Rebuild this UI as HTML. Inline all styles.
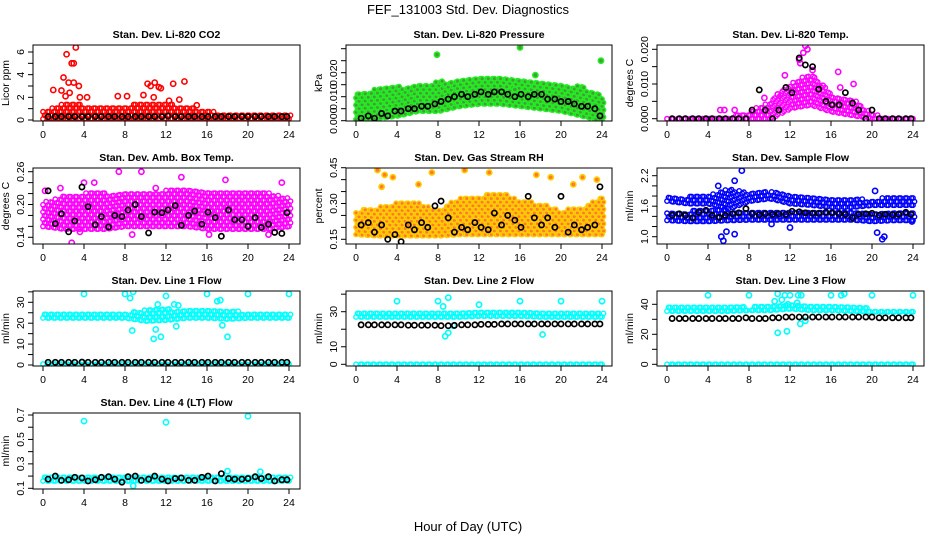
<!DOCTYPE html>
<html><head><meta charset="utf-8"><style>
body{margin:0;background:#fff}
svg{display:block;font-family:"Liberation Sans",sans-serif}
</style></head><body>
<svg id="fig" width="936" height="540" viewBox="0 0 936 540">
<rect width="936" height="540" fill="#fff"/>
<text x="468" y="14" text-anchor="middle" font-size="13">FEF_131003  Std. Dev. Diagnostics</text>
<text x="468" y="531" text-anchor="middle" font-size="13">Hour of Day (UTC)</text>
</svg>
<script>
const bandHours=[0,2,4,6,8,10,12,14,16,18,20,22,24];
const xTicks=[0,4,8,12,16,20,24];
const blackHours=[0.5,1.2,1.8,2.5,3.1,3.8,4.4,5.1,5.7,6.4,7.0,7.7,8.3,9.0,9.6,10.3,10.9,11.6,12.2,12.9,13.5,14.2,14.8,15.5,16.1,16.8,17.4,18.1,18.7,19.4,20.0,20.7,21.3,22.0,22.6,23.3,23.8];

const co2Lo=[0.1,0.1,0.1,0.1,0.1,0.1,0.1,0.1,0.1,0.1,0.1,0.1,0.1];
const co2Hi=[0.7,1.5,1.3,1.2,1.3,1.4,1.4,1.2,0.8,0.5,0.45,0.45,0.4];
const co2Out=[[1,2.65],[1.8,2.6],[2,3.75],[2.3,5.8],[2.5,3.3],[2.6,2.4],[2.8,5.0],[3,5.0],[3.0,3.3],[3.2,6.4],[3.5,3.0],[3.6,2.0],[2.2,2.1],[4.3,2.0],[7.3,2.1],[8.2,2.1],[9.8,2.2],[10.2,3.2],[10.5,3.0],[10.9,3.3],[10.8,2.0],[11.3,2.9],[11.5,2.8],[12.3,1.7],[12.7,3.2],[13.3,1.8],[13.8,3.4],[15,1.3]];
const co2Black=[0.3,0.3,0.3,0.3,0.3,0.3,0.3,0.3,0.3,0.3,0.3,0.3,0.3,0.3,0.3,0.3,0.3,0.3,0.35,0.3,0.3,0.3,0.3,0.3,0.3,0.3,0.3,0.3,0.3,0.3,0.3,0.3,0.3,0.3,0.3,0.3,0.3];

const presLo=[0.0005,0.001,0.002,0.004,0.004,0.006,0.007,0.007,0.006,0.005,0.004,0.002,0.0];
const presHi=[0.011,0.013,0.014,0.015,0.016,0.017,0.018,0.018,0.017,0.016,0.015,0.014,0.010];
const presOut=[[7.9,0.0275],[16,0.0305],[23.9,0.025],[15.5,0.013],[17.5,0.019]];
const presBlack=[0.001,0.002,0.001,0.003,0.002,0.004,0.004,0.005,0.005,0.006,0.006,0.007,0.008,0.009,0.010,0.011,0.010,0.011,0.012,0.011,0.012,0.012,0.011,0.010,0.011,0.010,0.011,0.011,0.009,0.009,0.008,0.008,0.007,0.006,0.006,0.005,0.002];

const tempLo=[0,0,0,0,0,0,0.003,0.004,0.002,0.001,0,0,0];
const tempHi=[0.0005,0.0005,0.0005,0.0005,0.002,0.005,0.010,0.013,0.007,0.006,0.001,0.0005,0.0005];
const tempOut=[[13.3,0.019],[13.5,0.021],[13.7,0.020],[12.9,0.017],[11.5,0.0125],[16.7,0.0135],[5.2,0.0025],[5.6,0.0025],[6.6,0.0025],[18.2,0.010],[13.0,0.016],[14.2,0.014],[9.5,0.006],[10.8,0.007],[15.2,0.0095],[16.9,0.009]];
const tempBlack=[0,0,0,0,0,0,0,0,0,0,0,0,0.0025,0.0083,0.0025,0,0.0025,0.009,0.0075,0.0175,0.0155,0.015,0.0085,0.005,0.004,0.004,0.0075,0.0045,0.0025,0,0.0025,0,0,0,0,0,0];

const ambLo=[0.16,0.155,0.155,0.155,0.16,0.16,0.16,0.16,0.155,0.155,0.155,0.155,0.16];
const ambHi=[0.205,0.215,0.22,0.22,0.22,0.22,0.225,0.225,0.22,0.22,0.22,0.22,0.21];
const ambOut=[[7.4,0.26],[9.6,0.26],[13.5,0.25],[17.8,0.245],[23.3,0.24],[2.8,0.13],[4,0.24],[5,0.24],[11,0.23],[3.6,0.15],[1.7,0.23],[0.2,0.225],[22,0.145],[16.2,0.145],[8.7,0.145]];
const ambBlack=[0.225,0.165,0.183,0.150,0.170,0.232,0.196,0.163,0.178,0.159,0.180,0.178,0.190,0.200,0.178,0.148,0.186,0.185,0.190,0.198,0.162,0.180,0.188,0.164,0.186,0.176,0.142,0.190,0.172,0.172,0.160,0.176,0.158,0.164,0.149,0.147,0.185];

const rhLo=[0.17,0.165,0.165,0.165,0.165,0.17,0.17,0.17,0.17,0.17,0.17,0.17,0.17];
const rhHi=[0.27,0.28,0.30,0.30,0.27,0.32,0.33,0.35,0.31,0.30,0.27,0.28,0.33];
const rhOut=[[2.1,0.44],[2.8,0.42],[3.6,0.41],[6.1,0.38],[7.4,0.43],[10.6,0.44],[13,0.43],[17.6,0.42],[19,0.41],[23.5,0.40],[2.5,0.37],[21.2,0.38],[22.1,0.41]];
const rhBlack=[0.21,0.22,0.18,0.21,0.15,0.17,0.14,0.21,0.19,0.22,0.20,0.29,0.31,0.24,0.18,0.20,0.19,0.22,0.20,0.19,0.26,0.21,0.25,0.23,0.20,0.33,0.24,0.21,0.24,0.20,0.33,0.18,0.21,0.19,0.20,0.21,0.37];

const flowLo=[1.32,1.30,1.30,1.32,1.33,1.33,1.33,1.33,1.33,1.33,1.30,1.32,1.32];
const flowHi=[1.50,1.50,1.52,1.52,1.52,1.52,1.52,1.52,1.52,1.52,1.50,1.52,1.50];
const flowLo2=[1.70,1.65,1.65,1.55,1.70,1.75,1.65,1.62,1.58,1.58,1.62,1.62,1.62];
const flowHi2=[1.80,1.78,1.82,1.95,1.85,1.88,1.82,1.80,1.72,1.78,1.70,1.82,1.80];
const flowOut=[[5.3,1.0],[5.5,0.92],[5.8,1.1],[6.6,1.05],[7.3,2.3],[6.6,2.1],[20.5,1.08],[21,0.95],[21.2,1.0],[12.0,1.18],[5.0,2.0],[20.3,1.9],[23.9,1.3],[10.2,1.25]];
const flowBlack=[1.42,1.45,1.42,1.37,1.48,1.52,1.42,1.38,1.42,1.45,1.47,1.55,1.45,1.43,1.45,1.44,1.45,1.44,1.50,1.49,1.47,1.46,1.46,1.48,1.47,1.45,1.44,1.37,1.44,1.45,1.46,1.42,1.44,1.43,1.44,1.48,1.44];

const l1Lo=[22.5,22.5,22.5,22.5,22.5,21,21.5,22.5,22.5,22,22.5,22.5,22.5];
const l1Hi=[25.5,25.5,25,25,25,26.5,27,26,26,26,25,25,24.5];
const l1Lo2=[0.5,0.5,0.5,0.5,0.5,0.5,0.5,0.5,0.5,0.5,0.5,0.5,0.5];
const l1Hi2=[1.8,1.8,1.8,1.8,1.8,1.8,1.8,1.8,1.8,1.8,1.8,1.8,1.8];
const l1Out=[[4,34],[8,34],[8.8,35],[8.5,32],[12,33],[16,34],[20,34],[24,34],[17,30.5],[17.3,31],[8.7,16.5],[10.8,12.5],[11,17],[11.5,13.5],[18,13.5],[11.2,29],[12.8,29],[13.2,28.5],[13,18.5],[17.5,19]];
const l1Black=[1.3,1.3,1.3,1.3,1.3,1.4,1.3,1.3,1.3,1.3,1.3,1.3,1.3,1.3,1.3,1.3,1.3,1.3,1.3,1.3,1.3,1.3,1.3,1.3,1.3,1.3,1.3,1.3,1.3,1.3,1.3,1.3,1.3,1.3,1.3,1.3,1.3];

const l2Lo=[27,27,27,27,27,27,27.5,27.5,27.5,27,27,27,27];
const l2Hi=[29.5,29.5,29.5,29.5,30,30.5,30,30,31,30,29.5,29.5,29.5];
const l2Lo2=[0,0,0,0,0,0,0,0,0,0,0,0,0];
const l2Hi2=[1.3,1.3,1.3,1.3,1.3,1.3,1.3,1.3,1.3,1.3,1.3,1.3,1.3];
const l2Out=[[4,36],[8,36],[9,38],[8.5,33],[12,34],[16,36],[20,36],[24,36],[8.7,16],[9,18],[18.2,17],[9.5,22]];
const l2Black=[22.5,22.5,22.5,22.5,22.5,22.5,22.5,22.3,22.3,22.3,22.3,22.3,22.0,22.0,22.2,22.5,22.5,22.5,22.8,22.8,22.8,23,23,23,23,23,23,23,23,23,23,23,23,23,23,23,23];

const l3Lo=[35.5,35.5,35.5,35.5,36,36,37,36,36,35.5,35,35,35];
const l3Hi=[38,38,38,38,38,39,40,38.5,39,38,37,37,37];
const l3Lo2=[0,0,0,0,0,0,0,0,0,0,0,0,0];
const l3Hi2=[1.6,1.6,1.6,1.6,2,1.6,1.6,1.6,1.6,1.6,1.6,1.6,1.6];
const l3Out=[[4,46],[8,46],[16,46],[17,46],[17.3,47],[20,46],[24,46],[10.8,47],[11.5,46],[12,46],[12.8,46],[13.1,46],[10.5,42],[11.2,43],[11.8,40],[12.7,41],[10.8,21],[11.7,22],[13,27],[13.5,29]];
const l3Black=[30.5,30.5,30.5,30.5,30.5,30.5,30.5,30.5,30.5,30.5,30.5,31,30.5,30.5,30.5,31,31,31.5,31.5,31.5,31.5,31.5,31.5,31.5,31.5,31.5,31.5,31.5,31.5,31.5,31.5,31,31,31,31,31,31];

const l4Lo=[0.16,0.16,0.16,0.16,0.16,0.16,0.16,0.16,0.16,0.16,0.16,0.16,0.16];
const l4Hi=[0.205,0.205,0.205,0.205,0.205,0.205,0.205,0.205,0.21,0.21,0.205,0.205,0.205];
const l4Out=[[4,0.65],[12,0.64],[20,0.69],[8.8,0.12],[18,0.24],[21.2,0.235]];
const l4Black=[0.175,0.2,0.165,0.17,0.19,0.185,0.16,0.17,0.19,0.195,0.175,0.15,0.195,0.2,0.165,0.175,0.2,0.175,0.16,0.18,0.185,0.165,0.165,0.19,0.2,0.16,0.22,0.18,0.175,0.175,0.18,0.195,0.18,0.195,0.16,0.17,0.17];

const yTicksCO2=[0,1,2,3,4,5,6], yLabCO2=[0,2,4,6];
const yTicksPres=[0,0.005,0.01,0.015,0.02,0.025,0.03], yLabPres=[0,0.01,0.02];
const yTicksTemp=[0,0.005,0.01,0.015,0.02], yLabTemp=[0,0.01,0.02];
const yTicksAmb=[0.14,0.16,0.18,0.2,0.22,0.24,0.26], yLabAmb=[0.14,0.2,0.26];
const yTicksRH=[0.15,0.2,0.25,0.3,0.35,0.4,0.45], yLabRH=[0.15,0.3,0.45];
const yTicksFlow=[1.0,1.2,1.4,1.6,1.8,2.0,2.2], yLabFlow=[1.0,1.6,2.2];
const yTicksL1=[0,5,10,15,20,25,30,35], yLabL1=[0,10,20,30];
const yTicksL2=[0,10,20,30,40], yLabL2=[0,10,30];
const yTicksL3=[0,10,20,30,40], yLabL3=[0,20,40];
const yTicksL4=[0.1,0.2,0.3,0.4,0.5,0.6,0.7], yLabL4=[0.1,0.3,0.5,0.7];

const NS='http://www.w3.org/2000/svg';
const fig=document.getElementById('fig');
function el(tag,attrs,parent){const e=document.createElementNS(NS,tag);for(const k in attrs)e.setAttribute(k,attrs[k]);(parent||fig).appendChild(e);return e;}
function interp(arr,h){const i=Math.min(Math.floor(h/2),11);const t=(h-bandHours[i])/2;return arr[i]+(arr[i+1]-arr[i])*t;}
const cols=[{L:33,R:300,x0:43,x24:289},{L:346,R:612,x0:356,x24:602},{L:657,R:924,x0:667,x24:913}];
const rows=[{T:45,B:121},{T:168,B:244},{T:291,B:366},{T:413,B:489}];

function panel(c){
  const col=cols[c.col],row=rows[c.row];
  const g=el('g',{});
  
  
  const sx=h=>col.x0+h*(col.x24-col.x0)/24;
  const sy=v=>c.pA+(v-c.yA)*(c.pB-c.pA)/(c.yB-c.yA);
  const cid='clip'+c.name;
  const cp=el('clipPath',{id:cid},g);el('rect',{x:col.L,y:row.T,width:col.R-col.L,height:row.B-row.T},cp);
  const pg=el('g',{'clip-path':'url(#'+cid+')'},g);
  
  
  (c.bands||[]).forEach(b=>{
    const bg=el('g',{},pg);
    
    
    let k=0;
    for(let h=0;h<=24.001;h+=0.3){
      const y1=sy(interp(b.hi,h)),y2=sy(interp(b.lo,h));
      let r=0;
      for(let y=y2;y>=y1-0.5;y-=3.6){
        el('circle',{cx:(sx(h)+((r+k)%2)*1.5).toFixed(1),cy:y.toFixed(1),r:2.2,fill:c.dot||'none',stroke:c.color,'stroke-width':1.4},bg);
        r++;
      }
      k++;
    }
  });
  (c.out||[]).forEach(p=>{
    const o=el('circle',{cx:sx(p[0]),cy:sy(p[1]),r:2.6,fill:c.dot||'none',stroke:c.color,'stroke-width':1.6},pg);
    
    
  });
  (c.black||[]).forEach((v,i)=>{
    if(i>=blackHours.length)return;
    const o=el('circle',{cx:sx(blackHours[i]),cy:sy(v),r:2.6,fill:'none',stroke:'#000','stroke-width':1.7},pg);
    
    
  });
  const box=el('rect',{x:col.L,y:row.T,width:col.R-col.L,height:row.B-row.T,fill:'none',stroke:'#000','stroke-width':1},g);
  
  
  const t=el('text',{x:(col.L+col.R)/2,y:row.T-7,'text-anchor':'middle','font-size':10.5,'font-weight':'bold'},g);
  t.textContent=c.title;
  
  
  xTicks.forEach(h=>{
    el('line',{x1:sx(h),x2:sx(h),y1:row.B,y2:row.B+5,stroke:'#000'},g);
    const tx=el('text',{x:sx(h),y:row.B+17,'text-anchor':'middle','font-size':10.5},g);
    tx.textContent=h;
    
    
  });
  c.yt.forEach(v=>el('line',{x1:col.L-5,x2:col.L,y1:sy(v),y2:sy(v),stroke:'#000'},g));
  c.yl.forEach(v=>{
    const y=sy(v);
    const tx=el('text',{x:0,y:0,'text-anchor':'middle','font-size':10.5,transform:`translate(${col.L-9},${y}) rotate(-90)`},g);
    tx.textContent=c.fmt(v);
    
    
  });
  const yl=el('text',{x:0,y:0,'text-anchor':'middle','font-size':10.5,transform:`translate(${col.L-24},${(row.T+row.B)/2}) rotate(-90)`},g);
  yl.textContent=c.ylab;
  
  
}
const f0=v=>String(v),f1=v=>v.toFixed(1),f2=v=>v.toFixed(2),f3=v=>v.toFixed(3);
panel({name:'co2-panel',col:0,row:0,title:'Stan. Dev. Li-820 CO2',ylab:'Licor ppm',yA:0,pA:120,yB:6,pB:52,yt:yTicksCO2,yl:yLabCO2,fmt:f0,color:'#ff0000',bands:[{lo:co2Lo,hi:co2Hi}],out:co2Out,black:co2Black});
panel({name:'pressure-panel',col:1,row:0,title:'Stan. Dev. Li-820 Pressure',ylab:'kPa',yA:0,pA:120.7,yB:0.02,pB:72.7,yt:yTicksPres,yl:yLabPres,fmt:f3,color:'#22ee22',dot:'#4a9a3a',bands:[{lo:presLo,hi:presHi}],out:presOut,black:presBlack});
panel({name:'temp-panel',col:2,row:0,title:'Stan. Dev. Li-820 Temp.',ylab:'degrees C',yA:0,pA:118.7,yB:0.02,pB:49.3,yt:yTicksTemp,yl:yLabTemp,fmt:f3,color:'#ff00ff',bands:[{lo:tempLo,hi:tempHi}],out:tempOut,black:tempBlack});
panel({name:'amb-box-temp-panel',col:0,row:1,title:'Stan. Dev. Amb. Box Temp.',ylab:'degrees C',yA:0.14,pA:237.3,yB:0.26,pB:171.7,yt:yTicksAmb,yl:yLabAmb,fmt:f2,color:'#ff00ff',bands:[{lo:ambLo,hi:ambHi}],out:ambOut,black:ambBlack});
panel({name:'gas-rh-panel',col:1,row:1,title:'Stan. Dev. Gas Stream RH',ylab:'percent',yA:0.15,pA:239.3,yB:0.45,pB:167.7,yt:yTicksRH,yl:yLabRH,fmt:f2,color:'#ffcc00',dot:'#ff7a30',bands:[{lo:rhLo,hi:rhHi}],out:rhOut,black:rhBlack});
panel({name:'sample-flow-panel',col:2,row:1,title:'Stan. Dev. Sample Flow',ylab:'ml/min',yA:1.0,pA:236.7,yB:2.2,pB:175.7,yt:yTicksFlow,yl:yLabFlow,fmt:f1,color:'#0000ff',bands:[{lo:flowLo,hi:flowHi},{lo:flowLo2,hi:flowHi2}],out:flowOut,black:flowBlack});
panel({name:'line1-flow-panel',col:0,row:2,title:'Stan. Dev. Line 1 Flow',ylab:'ml/min',yA:0,pA:365,yB:30,pB:302.3,yt:yTicksL1,yl:yLabL1,fmt:f0,color:'#00ffff',bands:[{lo:l1Lo,hi:l1Hi},{lo:l1Lo2,hi:l1Hi2}],out:l1Out,black:l1Black});
panel({name:'line2-flow-panel',col:1,row:2,title:'Stan. Dev. Line 2 Flow',ylab:'ml/min',yA:0,pA:364.3,yB:30,pB:311.7,yt:yTicksL2,yl:yLabL2,fmt:f0,color:'#00ffff',bands:[{lo:l2Lo,hi:l2Hi},{lo:l2Lo2,hi:l2Hi2}],out:l2Out,black:l2Black});
panel({name:'line3-flow-panel',col:2,row:2,title:'Stan. Dev. Line 3 Flow',ylab:'ml/min',yA:0,pA:364.3,yB:40,pB:304.3,yt:yTicksL3,yl:yLabL3,fmt:f0,color:'#00ffff',bands:[{lo:l3Lo,hi:l3Hi},{lo:l3Lo2,hi:l3Hi2}],out:l3Out,black:l3Black});
panel({name:'line4-flow-panel',col:0,row:3,title:'Stan. Dev. Line 4 (LT) Flow',ylab:'ml/min',yA:0.1,pA:488.3,yB:0.7,pB:415,yt:yTicksL4,yl:yLabL4,fmt:f1,color:'#00ffff',bands:[{lo:l4Lo,hi:l4Hi}],out:l4Out,black:l4Black});
</script>
</body></html>
